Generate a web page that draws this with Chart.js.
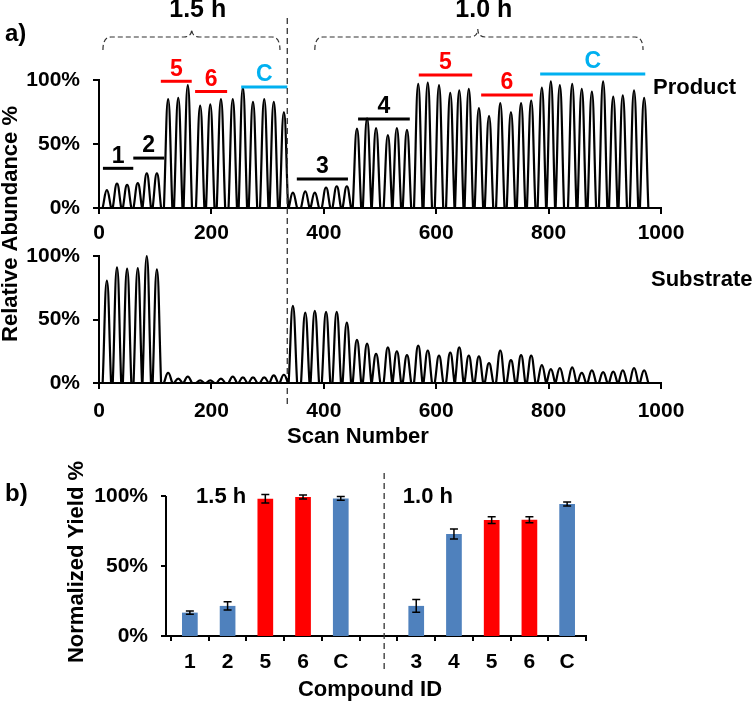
<!DOCTYPE html>
<html><head><meta charset="utf-8">
<script src="https://cdn.jsdelivr.net/npm/chart.js@4.4.1/dist/chart.umd.min.js"></script>
<style>
html,body{margin:0;padding:0;background:#fff;}
#wrap{position:relative;width:755px;height:702px;overflow:hidden;background:#fff;}
canvas{position:absolute;left:0;top:0;}
</style></head><body>
<div id="wrap">
<canvas id="c1" width="755" height="702"></canvas>
<canvas id="c2" width="755" height="702"></canvas>
<canvas id="c3" width="755" height="702"></canvas>
</div>
<script>
// ---------- data ----------
const peakScans = [14, 32, 50, 69, 85, 103, 123, 141, 158, 180, 198, 217, 238, 256, 274, 294, 311, 329,
  345, 367, 384, 404, 423, 441, 459, 477, 493, 514, 530, 548, 568, 585, 605, 625, 641, 658,
  676, 694, 714, 733, 751, 769, 788, 804, 820, 842, 859, 877, 897, 915, 932, 952, 970];
const productHeights = [14, 19, 18, 19.5, 27, 27, 85, 86, 96, 80, 81, 85, 85, 94, 83, 85, 83, 75,
  12, 13, 12, 16, 17, 17, 62, 70, 62.5, 57, 62.5, 61, 97, 98, 96, 90, 92, 93,
  78, 72, 82, 75, 82, 84, 94, 99, 96, 97, 93, 91, 99, 87, 88, 92, 86];
const substrateHeights = [80.6, 91, 90, 90.5, 100, 89.5, 8, 3.4, 5, 2, 2, 3.5, 5, 4.5, 4.5, 4.5, 6, 6.5,
  60.7, 55.5, 56.8, 56, 56, 47.6, 34, 31, 23, 28, 25, 22, 29.5, 25.6, 21.5, 24, 28, 21.5,
  21, 15.7, 25.6, 18, 22, 21.5, 14, 11, 11.8, 12.3, 7.9, 10, 8.6, 9, 10, 11.8, 10];
const scanTicks = [0, 200, 400, 600, 800, 1000];
const percentTicks = [0, 50, 100];
const percentTickLabels = ['0%', '50%', '100%'];
const markLabels = ['1', '2', '5', '6', 'C', '3', '4', '5', '6', 'C'];
const markStart = [7, 61, 110, 171, 253, 352, 461, 569, 680, 785];
const markEnd = [61, 116, 165, 228, 335, 443, 553, 664, 772, 972];
const markLevel = [31, 39, 99, 91, 94.5, 22.7, 69.5, 104, 88.3, 104.7];
const braceLabels = ['1.5 h', '1.0 h'];
const braceStart = [7, 384];
const braceEnd = [322, 968];
const braceTip = [165, 674];
const dividerScan = 335;
const compoundLabels = ['1', '2', '5', '6', 'C', '', '3', '4', '5', '6', 'C'];
const yieldValues = [16.7, 21.5, 98, 99.3, 98.3, null, 21.5, 72.8, 82.8, 83, 94.3];
const yieldErrors = [1.2, 3, 3, 1.4, 1.3, null, 4.5, 3.6, 2.4, 2.1, 1.5];
const barGroupLabels = ['1.5 h', '1.0 h'];

// ---------- styles ----------
const FONT = "'Liberation Sans', Arial, sans-serif";
const PEAK_HALF = 7.5;
const RED = '#ff0000', LIGHTBLUE = '#00b0f0', BARBLUE = '#4f81bd';
Chart.defaults.font.family = FONT;
Chart.defaults.font.weight = 'bold';
Chart.defaults.font.size = 21;
Chart.defaults.color = '#000';
Chart.defaults.animation = false;

function markColor(lab) { return (lab === '5' || lab === '6') ? RED : (lab === 'C' ? LIGHTBLUE : '#000'); }
function barColor(lab) { return (lab === '5' || lab === '6') ? RED : BARBLUE; }

function peakTrace(heights) {
  const pts = [];
  peakScans.forEach((s, i) => {
    pts.push({x: s - PEAK_HALF, y: 0}, {x: s, y: heights[i]}, {x: s + PEAK_HALF, y: 0}, {x: s + PEAK_HALF, y: null});
  });
  return pts;
}

function text(ctx, str, x, y, size, opts) {
  opts = opts || {};
  ctx.save();
  ctx.font = 'bold ' + size + 'px ' + FONT;
  ctx.fillStyle = opts.color || '#000';
  ctx.textAlign = opts.align || 'center';
  ctx.textBaseline = opts.baseline || 'middle';
  ctx.translate(x, y);
  if (opts.rotate) ctx.rotate(opts.rotate);
  ctx.fillText(str, 0, 0);
  ctx.restore();
}
function dashedV(ctx, x, y1, y2) {
  ctx.save();
  ctx.strokeStyle = '#333'; ctx.lineWidth = 1.3; ctx.setLineDash([6, 4]);
  ctx.beginPath(); ctx.moveTo(x, y1); ctx.lineTo(x, y2); ctx.stroke();
  ctx.restore();
}
function brace(ctx, x1, x2, xm, y) {
  const r = 8, end = 13, tip = 8;
  ctx.save();
  ctx.strokeStyle = '#333'; ctx.lineWidth = 1.2; ctx.setLineDash([5, 3]);
  ctx.beginPath();
  ctx.moveTo(x1, y + end);
  ctx.quadraticCurveTo(x1, y, x1 + r, y);
  ctx.lineTo(xm - r, y);
  ctx.quadraticCurveTo(xm, y, xm, y - tip);
  ctx.quadraticCurveTo(xm, y, xm + r, y);
  ctx.lineTo(x2 - r, y);
  ctx.quadraticCurveTo(x2, y, x2, y + end);
  ctx.stroke();
  ctx.restore();
}

const axisGrid = {drawOnChartArea: false, color: '#000', lineWidth: 2, tickLength: 6};
const axisBorder = {display: true, color: '#000', width: 2};

function traceChart(id, heights, area, xPad, deco) {
  return new Chart(document.getElementById(id), {
    type: 'line',
    data: {datasets: [{data: peakTrace(heights), borderColor: '#000', borderWidth: 2.2, pointRadius: 0,
      tension: 0.45, spanGaps: false, fill: false, clip: 5, borderJoinStyle: 'round'}]},
    options: {
      responsive: false, animation: false,
      layout: {padding: {left: 0, top: area.top, right: 755 - area.right, bottom: 0}},
      scales: {
        x: {type: 'linear', min: 0, max: 1000,
          afterBuildTicks: s => { s.ticks = scanTicks.map(v => ({value: v})); },
          afterFit: s => { s.height = 702 - area.bottom; },
          ticks: {padding: xPad, maxRotation: 0, autoSkip: false, callback: v => String(v)},
          grid: axisGrid, border: axisBorder},
        y: {type: 'linear', min: 0, max: 100,
          afterBuildTicks: s => { s.ticks = percentTicks.map(v => ({value: v})); },
          afterFit: s => { s.width = area.left; },
          ticks: {padding: 13, callback: v => percentTickLabels[percentTicks.indexOf(v)]},
          grid: axisGrid, border: axisBorder}
      },
      plugins: {legend: {display: false}, tooltip: {enabled: false}}
    },
    plugins: [{id: 'deco', afterDraw: deco}]
  });
}

// ---------- top: product ----------
traceChart('c1', productHeights, {left: 99, right: 661, top: 80, bottom: 208}, 7, chart => {
  const ctx = chart.ctx, xs = chart.scales.x, ys = chart.scales.y;
  markLabels.forEach((lab, i) => {
    const c = markColor(lab);
    const x1 = xs.getPixelForValue(markStart[i]), x2 = xs.getPixelForValue(markEnd[i]);
    const y = ys.getPixelForValue(markLevel[i]);
    ctx.save(); ctx.strokeStyle = c; ctx.lineWidth = 3;
    ctx.beginPath(); ctx.moveTo(x1, y); ctx.lineTo(x2, y); ctx.stroke(); ctx.restore();
    text(ctx, lab, (x1 + x2) / 2, y - 12, 23, {color: c});
  });
  braceLabels.forEach((lab, i) => {
    const xm = xs.getPixelForValue(braceTip[i]);
    brace(ctx, xs.getPixelForValue(braceStart[i]), xs.getPixelForValue(braceEnd[i]), xm, 37);
    text(ctx, lab, xm + 6, 10, 25);
  });
  dashedV(ctx, xs.getPixelForValue(dividerScan), 18, 408);
  text(ctx, 'a)', 5, 34, 24, {align: 'left'});
  text(ctx, 'Product', 653, 88, 22, {align: 'left'});
  text(ctx, 'Relative Abundance %', 11, 224, 22, {rotate: -Math.PI / 2});
});

// ---------- middle: substrate ----------
traceChart('c2', substrateHeights, {left: 99, right: 661, top: 256, bottom: 383}, 10, chart => {
  const ctx = chart.ctx;
  text(ctx, 'Substrate', 651, 280, 22, {align: 'left'});
  text(ctx, 'Scan Number', 358, 443, 22, {baseline: 'alphabetic'});
});

// ---------- bottom: yields ----------
new Chart(document.getElementById('c3'), {
  type: 'bar',
  data: {labels: compoundLabels, datasets: [{data: yieldValues,
    backgroundColor: compoundLabels.map(barColor), borderWidth: 0,
    barPercentage: 0.52, categoryPercentage: 0.8}]},
  options: {
    responsive: false, animation: false,
    layout: {padding: {left: 0, top: 496, right: 755 - 586, bottom: 0}},
    scales: {
      x: {type: 'category',
        afterFit: s => { s.height = 702 - 636; },
        ticks: {padding: 9, maxRotation: 0, autoSkip: false},
        grid: {drawOnChartArea: false, color: '#000', lineWidth: 2, tickLength: 5, offset: true},
        border: axisBorder},
      y: {type: 'linear', min: 0, max: 100,
        afterBuildTicks: s => { s.ticks = percentTicks.map(v => ({value: v})); },
        afterFit: s => { s.width = 171; },
        ticks: {padding: 23, callback: v => percentTickLabels[percentTicks.indexOf(v)]},
        grid: {display: false, drawTicks: false}, border: {display: false}}
    },
    plugins: {legend: {display: false}, tooltip: {enabled: false}}
  },
  plugins: [{id: 'errs', afterDatasetsDraw: chart => {
    const ctx = chart.ctx, ys = chart.scales.y, meta = chart.getDatasetMeta(0);
    ctx.save(); ctx.strokeStyle = '#000'; ctx.lineWidth = 1.5;
    yieldValues.forEach((v, i) => {
      if (v === null) return;
      const x = meta.data[i].x;
      const yT = ys.getPixelForValue(v + yieldErrors[i]), yB = ys.getPixelForValue(v - yieldErrors[i]);
      ctx.beginPath();
      ctx.moveTo(x, yT); ctx.lineTo(x, yB);
      ctx.moveTo(x - 4, yT); ctx.lineTo(x + 4, yT);
      ctx.moveTo(x - 4, yB); ctx.lineTo(x + 4, yB);
      ctx.stroke();
    });
    ctx.restore();
  }, afterDraw: chart => {
    const ctx = chart.ctx, xs = chart.scales.x, ys = chart.scales.y, a = chart.chartArea;
    const axX = a.left - 5;
    ctx.save(); ctx.strokeStyle = '#000'; ctx.lineWidth = 2;
    ctx.beginPath();
    ctx.moveTo(axX, ys.getPixelForValue(100)); ctx.lineTo(axX, a.bottom + 1);
    ctx.moveTo(axX - 1, a.bottom); ctx.lineTo(a.left + 1, a.bottom);
    percentTicks.forEach(v => { const y = ys.getPixelForValue(v); ctx.moveTo(axX - 5, y); ctx.lineTo(axX, y); });
    ctx.stroke(); ctx.restore();
    dashedV(ctx, xs.getPixelForValue(5.15), 473, 672);
    text(ctx, barGroupLabels[0], xs.getPixelForValue(0.83), 497, 22);
    text(ctx, barGroupLabels[1], xs.getPixelForValue(6.31), 497, 22);
    text(ctx, 'b)', 5, 494, 24, {align: 'left'});
    text(ctx, 'Normalized Yield %', 77, 562, 22, {rotate: -Math.PI / 2});
    text(ctx, 'Compound ID', 370, 696, 22, {baseline: 'alphabetic'});
  }}]
});
</script>
</body></html>
